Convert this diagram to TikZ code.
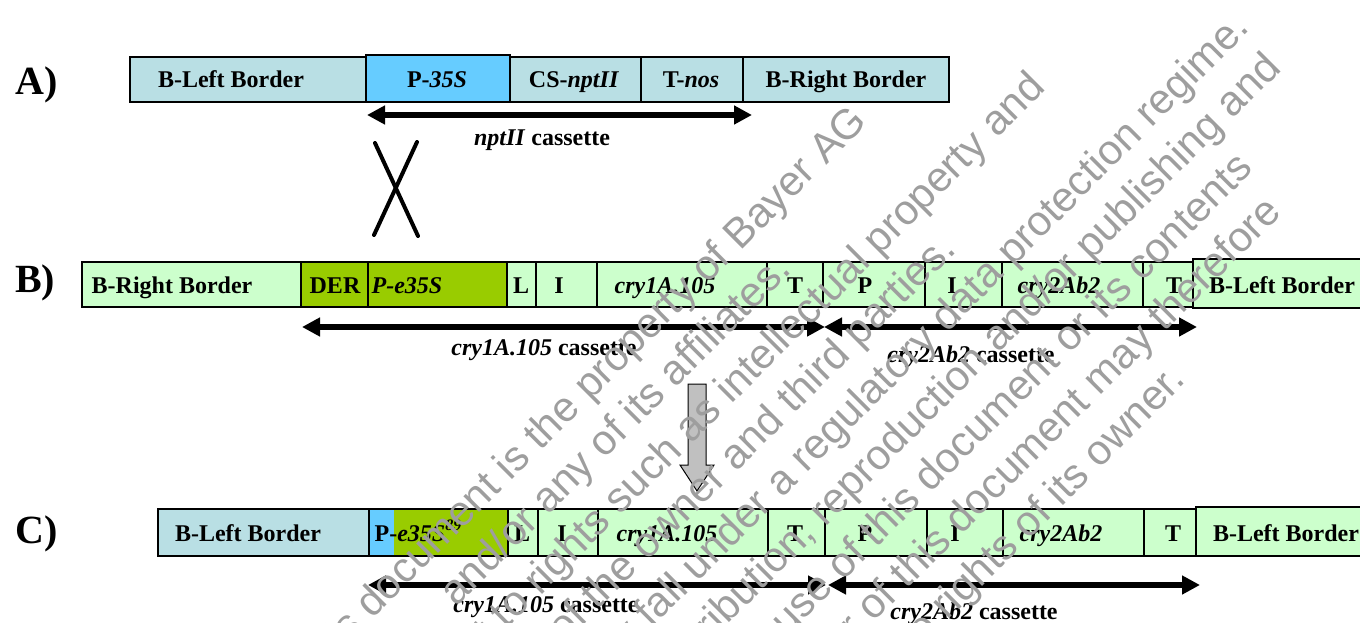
\documentclass[tikz,border=0pt]{standalone}
\usepackage{fontspec}
\setmainfont{Liberation Serif}
\newfontfamily\wmfont{Liberation Sans}
\usetikzlibrary{arrows.meta}
\definecolor{lblue}{RGB}{185,223,228}
\definecolor{pblue}{RGB}{102,204,255}
\definecolor{lgreen}{RGB}{204,255,204}
\definecolor{dgreen}{RGB}{153,204,0}
\definecolor{arrowgray}{RGB}{192,192,192}
\definecolor{wmgray}{RGB}{158,158,158}
\newcommand\segbox[6]{%
  \node[seg, fill=#6, minimum width={#3-#2}, minimum height={#5-#4}, anchor=north west] (#1) at (#2,#4) {};}
\newcommand\seglabel[4]{\node[lbl] (#1) at (#2,#3) {#4};}
\tikzset{
  seg/.style={draw=black, line width=1.3pt, inner sep=0pt, outer sep=0pt},
  lbl/.style={anchor=base, inner sep=0pt, font=\bfseries\fontsize{24}{28}\selectfont},
  rowlbl/.style={anchor=base, inner sep=0pt, font=\bfseries\fontsize{40}{44}\selectfont},
  cass/.style={line width=6pt, {Triangle[length=18pt,width=18pt]}-{Triangle[length=18pt,width=18pt]}},
  crossline/.style={line width=4pt, line cap=round},
  bigarrow/.style={fill=arrowgray, draw=black, line width=1pt, line join=miter},
  wmark/.style={rotate=45, text=wmgray, align=center, inner sep=0pt,
    font=\wmfont\fontsize{42}{51}\selectfont}
}
\begin{document}
\begin{tikzpicture}[x=1pt,y=-1pt]
\useasboundingbox (0,0) rectangle (1360,623);
\clip (0,0) rectangle (1360,623);
% row labels
\node[rowlbl] (la) at (37,95) {A)};
\node[rowlbl] (lb) at (35,292) {B)};
\node[rowlbl] (lc) at (37,543) {C)};
% ---- row A
\segbox{alb}{130}{366}{57}{102}{lblue}
\segbox{ap}{366}{510}{55}{102}{pblue}
\segbox{acs}{510}{641}{57}{102}{lblue}
\segbox{at}{641}{743}{57}{102}{lblue}
\segbox{arb}{743}{949}{57}{102}{lblue}
\seglabel{albt}{231}{88}{B-Left Border}
\seglabel{apt}{437}{88}{P-\textit{35S}}
\seglabel{acst}{574}{88}{CS-\textit{nptII}}
\seglabel{att}{691}{88}{T-\textit{nos}}
\seglabel{arbt}{846}{88}{B-Right Border}
\coordinate (a1) at (367,115);
\coordinate (a2) at (752,115);
\draw[cass] (a1) -- (a2);
\seglabel{acass}{542}{146}{\textit{nptII} cassette}
% cross
\coordinate (x1) at (375,143);
\coordinate (x2) at (418,236);
\coordinate (x3) at (417,142);
\coordinate (x4) at (374,235);
\draw[crossline] (x1) -- (x2);
\draw[crossline] (x3) -- (x4);
% ---- row B
\segbox{brb}{82}{301}{262}{307}{lgreen}
\segbox{bder}{301}{368}{262}{307}{dgreen}
\segbox{bpe}{368}{507}{262}{307}{dgreen}
\segbox{bl}{507}{536}{262}{307}{lgreen}
\segbox{bi}{536}{597}{262}{307}{lgreen}
\segbox{bcry}{597}{767}{262}{307}{lgreen}
\segbox{bt}{767}{823}{262}{307}{lgreen}
\segbox{bp}{823}{925}{262}{307}{lgreen}
\segbox{bi2}{925}{1002}{262}{307}{lgreen}
\segbox{bcry2}{1002}{1143}{262}{307}{lgreen}
\segbox{bt2}{1143}{1193}{262}{307}{lgreen}
\segbox{blb}{1193}{1375}{259}{308}{lgreen}
\seglabel{brbt}{172}{293}{B-Right Border}
\seglabel{bdert}{335}{293}{DER}
\seglabel{bpet}{407}{293}{\textit{P-e35S}}
\seglabel{blt}{521}{293}{L}
\seglabel{bit}{559}{293}{I}
\seglabel{bcryt}{665}{293}{\textit{cry1A.105}}
\seglabel{btt}{795}{293}{T}
\seglabel{bpt}{865}{293}{P}
\seglabel{bi2t}{952}{293}{I}
\seglabel{bcry2t}{1059}{293}{\textit{cry2Ab2}}
\seglabel{bt2t}{1174}{293}{T}
\seglabel{blbt}{1282}{293}{B-Left Border}
\coordinate (b1) at (302,327);
\coordinate (b2) at (825,327);
\coordinate (b3) at (824,327);
\coordinate (b4) at (1197,327);
\draw[cass] (b1) -- (b2);
\draw[cass] (b3) -- (b4);
\seglabel{bcass1}{544}{355}{\textit{cry1A.105} cassette}
\seglabel{bcass2}{971}{362}{\textit{cry2Ab2} cassette}
% gray arrow
\draw[bigarrow] (688,384) -- (706,384) -- (706,465) -- (714,465) -- (697,491) -- (680,465) -- (688,465) -- cycle;
% ---- row C
\segbox{clb}{158}{369}{509}{556}{lblue}
\node[seg, fill=dgreen, minimum width=139, minimum height=47, anchor=north west,
  path picture={\fill[pblue] (path picture bounding box.north west) rectangle ([xshift=25pt]path picture bounding box.south west);}] (cpe) at (369,509) {};
\draw[line width=1.3pt] (cpe.north west) rectangle (cpe.south east);
\segbox{cl}{508}{538}{509}{556}{lgreen}
\segbox{ci}{538}{598}{509}{556}{lgreen}
\segbox{ccry}{598}{768}{509}{556}{lgreen}
\segbox{ct}{768}{825}{509}{556}{lgreen}
\segbox{cp}{825}{927}{509}{556}{lgreen}
\segbox{ci2}{927}{1003}{509}{556}{lgreen}
\segbox{ccry2}{1003}{1144}{509}{556}{lgreen}
\segbox{ct2}{1144}{1196}{509}{556}{lgreen}
\segbox{clb2}{1196}{1375}{507}{556}{lgreen}
\seglabel{clbt}{248}{541}{B-Left Border}
\seglabel{cpet}{418}{541}{P-\textit{e35S}\raisebox{0.42em}{\fontsize{16}{16}\selectfont\itshape 89}}
\seglabel{clt}{522}{541}{L}
\seglabel{cit}{562}{541}{I}
\seglabel{ccryt}{667}{541}{\textit{cry1A.105}}
\seglabel{ctt}{795}{541}{T}
\seglabel{cpt}{865}{541}{P}
\seglabel{ci2t}{955}{541}{I}
\seglabel{ccry2t}{1061}{541}{\textit{cry2Ab2}}
\seglabel{ct2t}{1173}{541}{T}
\seglabel{clb2t}{1286}{541}{B-Left Border}
\coordinate (c1) at (368,585);
\coordinate (c2) at (826,585);
\coordinate (c3) at (828,585);
\coordinate (c4) at (1200,585);
\draw[cass] (c1) -- (c2);
\draw[cass] (c3) -- (c4);
\seglabel{ccass1}{546}{612}{\textit{cry1A.105} cassette}
\seglabel{ccass2}{974}{619}{\textit{cry2Ab2} cassette}
% watermark
\node[wmark] (wm) at (725,540) {This document is the property of Bayer AG\\
and/or any of its affiliates.\\
It may be subject to rights such as intellectual property and\\
copyright of the owner and third parties.\\
Furthermore, this document may fall under a regulatory data protection regime.\\
Consequently, any publication, distribution, reproduction and/or publishing and\\
any commercial exploitation and use of this document or its contents\\
without the permission of the owner of this document may therefore\\
be prohibited and violate the rights of its owner.};
\end{tikzpicture}
\end{document}
